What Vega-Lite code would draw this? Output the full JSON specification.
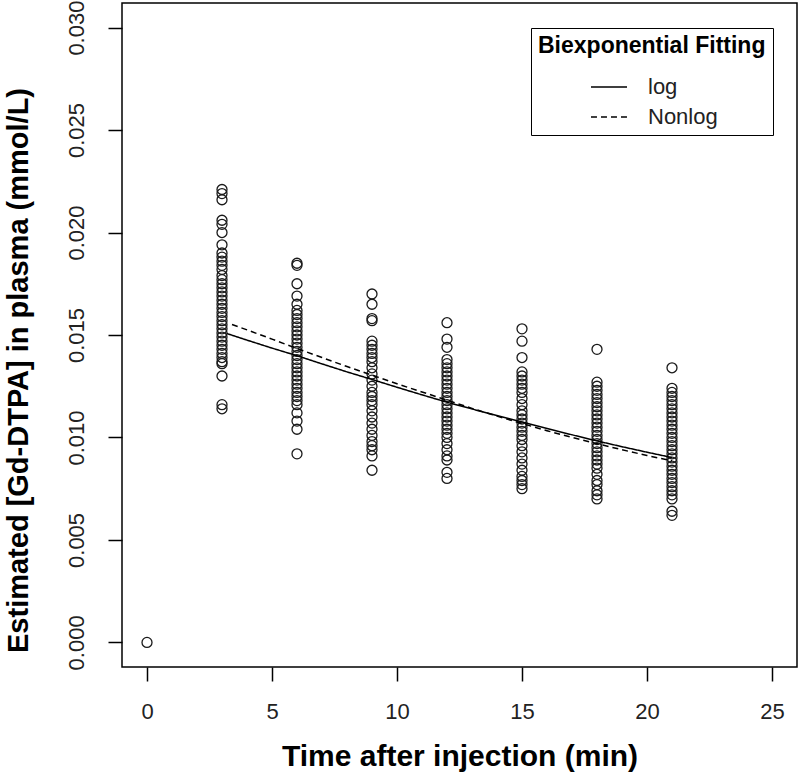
{
  "$schema": "https://vega.github.io/schema/vega-lite/v6.json",
  "width": 675,
  "height": 664,
  "autosize": {"type": "none"},
  "padding": {"left": 122, "top": 3, "right": 3, "bottom": 107},
  "background": "white",
  "config": {
    "font": "Liberation Sans",
    "view": {"stroke": "black", "strokeWidth": 1.5},
    "axis": {
      "grid": false,
      "domain": false,
      "tickColor": "black",
      "tickWidth": 1.5,
      "tickSize": 14,
      "labelColor": "#222",
      "labelFontSize": 22,
      "labelFont": "Liberation Sans",
      "titleFont": "Liberation Sans",
      "titleFontSize": 29,
      "titleFontWeight": "bold",
      "titleColor": "black"
    }
  },
  "datasets": {
    "pts": [
      {"t": 0, "c": 0},
      {"t": 3, "c": 0.0221}, {"t": 3, "c": 0.0219}, {"t": 3, "c": 0.0216}, {"t": 3, "c": 0.0206}, {"t": 3, "c": 0.0204}, {"t": 3, "c": 0.0200}, {"t": 3, "c": 0.0194}, {"t": 3, "c": 0.0190}, {"t": 3, "c": 0.0188}, {"t": 3, "c": 0.0186}, {"t": 3, "c": 0.0184}, {"t": 3, "c": 0.0182}, {"t": 3, "c": 0.0179}, {"t": 3, "c": 0.0177}, {"t": 3, "c": 0.0175}, {"t": 3, "c": 0.0173}, {"t": 3, "c": 0.0171}, {"t": 3, "c": 0.0169}, {"t": 3, "c": 0.0167}, {"t": 3, "c": 0.0165}, {"t": 3, "c": 0.0163}, {"t": 3, "c": 0.0161}, {"t": 3, "c": 0.0159}, {"t": 3, "c": 0.0157}, {"t": 3, "c": 0.0155}, {"t": 3, "c": 0.0153}, {"t": 3, "c": 0.0151}, {"t": 3, "c": 0.0149}, {"t": 3, "c": 0.0147}, {"t": 3, "c": 0.0145}, {"t": 3, "c": 0.0143}, {"t": 3, "c": 0.0141}, {"t": 3, "c": 0.0139}, {"t": 3, "c": 0.0137}, {"t": 3, "c": 0.0136}, {"t": 3, "c": 0.0130}, {"t": 3, "c": 0.0116}, {"t": 3, "c": 0.0114},
      {"t": 6, "c": 0.0185}, {"t": 6, "c": 0.0184}, {"t": 6, "c": 0.0175}, {"t": 6, "c": 0.0169}, {"t": 6, "c": 0.0165}, {"t": 6, "c": 0.0162}, {"t": 6, "c": 0.0160}, {"t": 6, "c": 0.0158}, {"t": 6, "c": 0.0156}, {"t": 6, "c": 0.0154}, {"t": 6, "c": 0.0152}, {"t": 6, "c": 0.0150}, {"t": 6, "c": 0.0148}, {"t": 6, "c": 0.0146}, {"t": 6, "c": 0.0144}, {"t": 6, "c": 0.0142}, {"t": 6, "c": 0.0140}, {"t": 6, "c": 0.0138}, {"t": 6, "c": 0.0136}, {"t": 6, "c": 0.0134}, {"t": 6, "c": 0.0132}, {"t": 6, "c": 0.0130}, {"t": 6, "c": 0.0128}, {"t": 6, "c": 0.0126}, {"t": 6, "c": 0.0124}, {"t": 6, "c": 0.0122}, {"t": 6, "c": 0.0120}, {"t": 6, "c": 0.0118}, {"t": 6, "c": 0.0116}, {"t": 6, "c": 0.0112}, {"t": 6, "c": 0.0108}, {"t": 6, "c": 0.0104}, {"t": 6, "c": 0.0092},
      {"t": 9, "c": 0.0170}, {"t": 9, "c": 0.0165}, {"t": 9, "c": 0.0158}, {"t": 9, "c": 0.0157}, {"t": 9, "c": 0.0147}, {"t": 9, "c": 0.0145}, {"t": 9, "c": 0.0143}, {"t": 9, "c": 0.0141}, {"t": 9, "c": 0.0139}, {"t": 9, "c": 0.0137}, {"t": 9, "c": 0.0134}, {"t": 9, "c": 0.0131}, {"t": 9, "c": 0.0128}, {"t": 9, "c": 0.0125}, {"t": 9, "c": 0.0122}, {"t": 9, "c": 0.0120}, {"t": 9, "c": 0.0118}, {"t": 9, "c": 0.0116}, {"t": 9, "c": 0.0113}, {"t": 9, "c": 0.0110}, {"t": 9, "c": 0.0107}, {"t": 9, "c": 0.0104}, {"t": 9, "c": 0.0101}, {"t": 9, "c": 0.0098}, {"t": 9, "c": 0.0096}, {"t": 9, "c": 0.0094}, {"t": 9, "c": 0.0091}, {"t": 9, "c": 0.0084},
      {"t": 12, "c": 0.0156}, {"t": 12, "c": 0.0148}, {"t": 12, "c": 0.0144}, {"t": 12, "c": 0.0138}, {"t": 12, "c": 0.0136}, {"t": 12, "c": 0.0134}, {"t": 12, "c": 0.0132}, {"t": 12, "c": 0.0130}, {"t": 12, "c": 0.0128}, {"t": 12, "c": 0.0126}, {"t": 12, "c": 0.0124}, {"t": 12, "c": 0.0122}, {"t": 12, "c": 0.0120}, {"t": 12, "c": 0.0118}, {"t": 12, "c": 0.0116}, {"t": 12, "c": 0.0114}, {"t": 12, "c": 0.0112}, {"t": 12, "c": 0.0110}, {"t": 12, "c": 0.0108}, {"t": 12, "c": 0.0106}, {"t": 12, "c": 0.0104}, {"t": 12, "c": 0.0102}, {"t": 12, "c": 0.0100}, {"t": 12, "c": 0.0097}, {"t": 12, "c": 0.0094}, {"t": 12, "c": 0.0091}, {"t": 12, "c": 0.0089}, {"t": 12, "c": 0.0083}, {"t": 12, "c": 0.0080},
      {"t": 15, "c": 0.0153}, {"t": 15, "c": 0.0147}, {"t": 15, "c": 0.0139}, {"t": 15, "c": 0.0132}, {"t": 15, "c": 0.0130}, {"t": 15, "c": 0.0128}, {"t": 15, "c": 0.0126}, {"t": 15, "c": 0.0124}, {"t": 15, "c": 0.0122}, {"t": 15, "c": 0.0119}, {"t": 15, "c": 0.0116}, {"t": 15, "c": 0.0113}, {"t": 15, "c": 0.0111}, {"t": 15, "c": 0.0109}, {"t": 15, "c": 0.0107}, {"t": 15, "c": 0.0105}, {"t": 15, "c": 0.0103}, {"t": 15, "c": 0.0101}, {"t": 15, "c": 0.0099}, {"t": 15, "c": 0.0096}, {"t": 15, "c": 0.0093}, {"t": 15, "c": 0.0090}, {"t": 15, "c": 0.0087}, {"t": 15, "c": 0.0084}, {"t": 15, "c": 0.0081}, {"t": 15, "c": 0.0079}, {"t": 15, "c": 0.0077}, {"t": 15, "c": 0.0075},
      {"t": 18, "c": 0.0143}, {"t": 18, "c": 0.0127}, {"t": 18, "c": 0.0125}, {"t": 18, "c": 0.0123}, {"t": 18, "c": 0.0121}, {"t": 18, "c": 0.0119}, {"t": 18, "c": 0.0117}, {"t": 18, "c": 0.0115}, {"t": 18, "c": 0.0113}, {"t": 18, "c": 0.0111}, {"t": 18, "c": 0.0109}, {"t": 18, "c": 0.0107}, {"t": 18, "c": 0.0105}, {"t": 18, "c": 0.0103}, {"t": 18, "c": 0.0101}, {"t": 18, "c": 0.0099}, {"t": 18, "c": 0.0097}, {"t": 18, "c": 0.0095}, {"t": 18, "c": 0.0093}, {"t": 18, "c": 0.0091}, {"t": 18, "c": 0.0089}, {"t": 18, "c": 0.0087}, {"t": 18, "c": 0.0085}, {"t": 18, "c": 0.0082}, {"t": 18, "c": 0.0079}, {"t": 18, "c": 0.0077}, {"t": 18, "c": 0.0074}, {"t": 18, "c": 0.0072}, {"t": 18, "c": 0.0070},
      {"t": 21, "c": 0.0134}, {"t": 21, "c": 0.0124}, {"t": 21, "c": 0.0122}, {"t": 21, "c": 0.0120}, {"t": 21, "c": 0.0118}, {"t": 21, "c": 0.0116}, {"t": 21, "c": 0.0114}, {"t": 21, "c": 0.0112}, {"t": 21, "c": 0.0110}, {"t": 21, "c": 0.0108}, {"t": 21, "c": 0.0106}, {"t": 21, "c": 0.0104}, {"t": 21, "c": 0.0102}, {"t": 21, "c": 0.0100}, {"t": 21, "c": 0.0098}, {"t": 21, "c": 0.0096}, {"t": 21, "c": 0.0094}, {"t": 21, "c": 0.0092}, {"t": 21, "c": 0.0090}, {"t": 21, "c": 0.0088}, {"t": 21, "c": 0.0086}, {"t": 21, "c": 0.0084}, {"t": 21, "c": 0.0082}, {"t": 21, "c": 0.0080}, {"t": 21, "c": 0.0078}, {"t": 21, "c": 0.0076}, {"t": 21, "c": 0.0074}, {"t": 21, "c": 0.0072}, {"t": 21, "c": 0.0070}, {"t": 21, "c": 0.0064}, {"t": 21, "c": 0.0062}
    ],
    "fit": [
      {"t": 3.2, "c": 0.01507, "method": "log"}, {"t": 4, "c": 0.01475, "method": "log"}, {"t": 5, "c": 0.01436, "method": "log"}, {"t": 6, "c": 0.01399, "method": "log"}, {"t": 7, "c": 0.01359, "method": "log"}, {"t": 8, "c": 0.01320, "method": "log"}, {"t": 9, "c": 0.01283, "method": "log"}, {"t": 10, "c": 0.01245, "method": "log"}, {"t": 11, "c": 0.01208, "method": "log"}, {"t": 12, "c": 0.01172, "method": "log"}, {"t": 13, "c": 0.01139, "method": "log"}, {"t": 14, "c": 0.01107, "method": "log"}, {"t": 15, "c": 0.01076, "method": "log"}, {"t": 16, "c": 0.01044, "method": "log"}, {"t": 17, "c": 0.01013, "method": "log"}, {"t": 18, "c": 0.00983, "method": "log"}, {"t": 19, "c": 0.00955, "method": "log"}, {"t": 20, "c": 0.00928, "method": "log"}, {"t": 21, "c": 0.00902, "method": "log"},
      {"t": 3.4, "c": 0.01551, "method": "Nonlog"}, {"t": 4, "c": 0.01525, "method": "Nonlog"}, {"t": 5, "c": 0.01480, "method": "Nonlog"}, {"t": 6, "c": 0.01434, "method": "Nonlog"}, {"t": 7, "c": 0.01390, "method": "Nonlog"}, {"t": 8, "c": 0.01346, "method": "Nonlog"}, {"t": 9, "c": 0.01304, "method": "Nonlog"}, {"t": 10, "c": 0.01262, "method": "Nonlog"}, {"t": 11, "c": 0.01222, "method": "Nonlog"}, {"t": 12, "c": 0.01182, "method": "Nonlog"}, {"t": 13, "c": 0.01142, "method": "Nonlog"}, {"t": 14, "c": 0.01104, "method": "Nonlog"}, {"t": 15, "c": 0.01068, "method": "Nonlog"}, {"t": 16, "c": 0.01033, "method": "Nonlog"}, {"t": 17, "c": 0.01000, "method": "Nonlog"}, {"t": 18, "c": 0.00970, "method": "Nonlog"}, {"t": 19, "c": 0.00940, "method": "Nonlog"}, {"t": 20, "c": 0.00912, "method": "Nonlog"}, {"t": 21, "c": 0.00886, "method": "Nonlog"}
    ]
  },
  "encoding": {
    "x": {
      "field": "t", "type": "quantitative",
      "scale": {"domain": [-1, 26], "nice": false, "zero": false},
      "axis": {"title": "Time after injection (min)", "values": [0, 5, 10, 15, 20, 25], "labelPadding": 20, "titlePadding": 19, "titleFontSize": 30}
    },
    "y": {
      "field": "c", "type": "quantitative",
      "scale": {"domain": [-0.0012, 0.0312], "nice": false, "zero": false},
      "axis": {
        "title": "Estimated [Gd-DTPA] in plasma (mmol/L)",
        "values": [0, 0.005, 0.01, 0.015, 0.02, 0.025, 0.03],
        "format": ".3f",
        "labelAngle": -90, "labelAlign": "center", "labelBaseline": "bottom", "labelPadding": 20,
        "titleAngle": -90, "titleAlign": "center", "titleBaseline": "bottom", "titleX": -89, "titleY": 367
      }
    }
  },
  "layer": [
    {
      "data": {"name": "pts"},
      "mark": {"type": "point", "shape": "circle", "filled": false, "size": 100, "stroke": "#1a1a1a", "strokeWidth": 1.3, "opacity": 1}
    },
    {
      "data": {"name": "fit"},
      "mark": {"type": "line", "stroke": "black", "strokeWidth": 1.5},
      "encoding": {
        "strokeDash": {
          "field": "method", "type": "nominal",
          "scale": {"domain": ["log", "Nonlog"], "range": [[1, 0], [6, 4]]},
          "legend": {
            "title": "Biexponential Fitting",
            "orient": "none", "legendX": 409, "legendY": 25,
            "fillColor": "white", "strokeColor": "black",
            "padding": 7,
            "titleFontSize": 23, "titleFontWeight": "bold", "titleColor": "black", "titlePadding": 10, "titleLimit": 500,
            "labelFontSize": 22, "labelColor": "#222", "labelOffset": 20, "labelLimit": 300,
            "symbolType": "stroke", "symbolSize": 1300, "symbolStrokeColor": "black", "symbolStrokeWidth": 1.5,
            "symbolOffset": 52, "rowPadding": 0
          }
        }
      }
    }
  ]
}
